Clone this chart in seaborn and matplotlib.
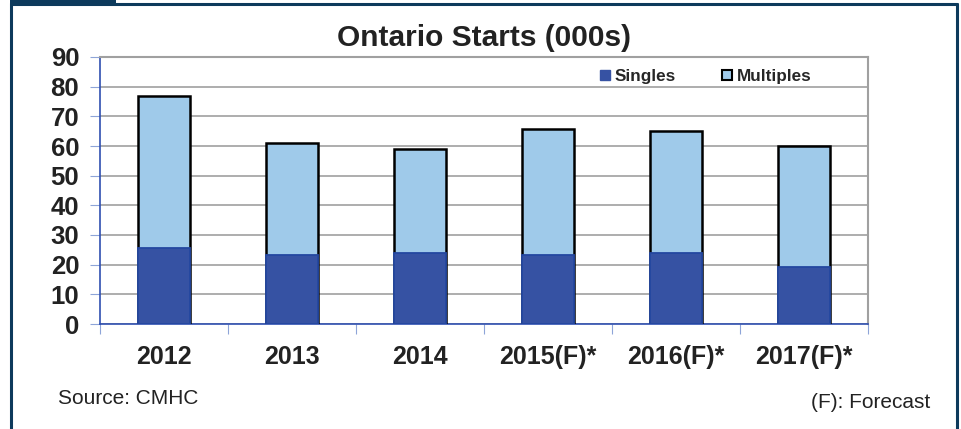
import matplotlib
matplotlib.use("Agg")
import matplotlib.pyplot as plt
from matplotlib.lines import Line2D
from matplotlib.patches import Rectangle
import seaborn as sns
import pandas as pd

years = ["2012", "2013", "2014", "2015(F)*", "2016(F)*", "2017(F)*"]
singles = [25.6, 23.3, 23.9, 23.3, 23.9, 19.2]
multiples = [51.2, 37.7, 35.1, 42.4, 41.1, 40.8]
yticks = [0, 10, 20, 30, 40, 50, 60, 70, 80, 90]

sns.set_theme(style="white")
plt.rcParams['font.family'] = ['Liberation Sans', 'DejaVu Sans']

df = pd.DataFrame({"year": years, "singles": singles, "multiples": multiples})
df["total"] = df["singles"] + df["multiples"]

W, H = 961, 429
fig = plt.figure(figsize=(W / 100, H / 100), dpi=100)
ax = fig.add_axes([100 / W, 1 - 324 / H, 768 / W, 267 / H])

c_single = "#3652a3"
c_multi = "#9fcaea"
blue_axis = "#2f4fb0"

sns.barplot(data=df, x="year", y="total", color=c_multi, edgecolor="black",
            linewidth=1.8, width=0.41, saturation=1, ax=ax, zorder=3)
sns.barplot(data=df, x="year", y="singles", color=c_single, edgecolor="#2447a0",
            linewidth=1.3, width=0.41, saturation=1, ax=ax, zorder=4)

ax.set_ylim(0, 90)
ax.set_xlim(-0.5, 5.5)
ax.set_yticks(yticks)
ax.set_yticklabels([str(v) for v in yticks], fontsize=18.5, fontweight="bold", color="#222222")
ax.set_xticks(range(len(years)))
ax.set_xticklabels(years, fontsize=18, fontweight="bold", color="#222222")
ax.set_xlabel("")
ax.set_ylabel("")

ax.yaxis.grid(True, color="#a0a0a0", linewidth=1.2, zorder=0)
ax.set_axisbelow(True)

for s in ["left", "bottom"]:
    ax.spines[s].set_color(blue_axis)
    ax.spines[s].set_linewidth(1.2)
for s in ["top", "right"]:
    ax.spines[s].set_color("#a0a0a0")
    ax.spines[s].set_linewidth(1.5)

ax.tick_params(axis="y", which="both", left=True, length=7, width=0.8,
               color="#8ea4d8", pad=8)
ax.tick_params(axis="x", which="major", bottom=False, pad=9)
ax.set_xticks([i + 0.5 for i in range(-1, len(years))], minor=True)
ax.tick_params(axis="x", which="minor", bottom=True, length=7, width=0.8,
               color="#8ea4d8")

fig.text(484 / W, 1 - 38 / H, "Ontario Starts (000s)", ha="center", va="center",
         fontsize=21.5, fontweight="bold", color="#222222")

handles = [Rectangle((0, 0), 1, 1, facecolor=c_single, edgecolor=c_single),
           Rectangle((0, 0), 1, 1, facecolor=c_multi, edgecolor="black", linewidth=1.5)]
leg = ax.legend(handles, ["Singles", "Multiples"], loc="upper left",
                bbox_to_anchor=(488 / 768, 1.0), ncol=2, frameon=False,
                prop={"weight": "bold", "size": 12.3}, handlelength=0.6,
                handleheight=0.6, handletextpad=0.25, columnspacing=2.7,
                borderaxespad=0.3)

fig.text(58 / W, 1 - 398 / H, "Source: CMHC", ha="left", va="center",
         fontsize=15, color="#222222")
fig.text(930 / W, 1 - 402 / H, "(F): Forecast", ha="right", va="center",
         fontsize=15, color="#222222")

navy = "#0d3a5c"
fig.add_artist(Line2D([11 / W, 11 / W], [0, 1 - 3 / H], transform=fig.transFigure,
                      color=navy, linewidth=2.2))
fig.add_artist(Line2D([11 / W, 957 / W], [1 - 4 / H, 1 - 4 / H], transform=fig.transFigure,
                      color=navy, linewidth=2.2))
fig.add_artist(Line2D([957 / W, 957 / W], [0, 1 - 4 / H], transform=fig.transFigure,
                      color=navy, linewidth=2.2))
fig.add_artist(Rectangle((10 / W, 1 - 6 / H), 106 / W, 6 / H, transform=fig.transFigure,
                         facecolor=navy, edgecolor="none"))

fig.savefig("out.png", dpi=100)
